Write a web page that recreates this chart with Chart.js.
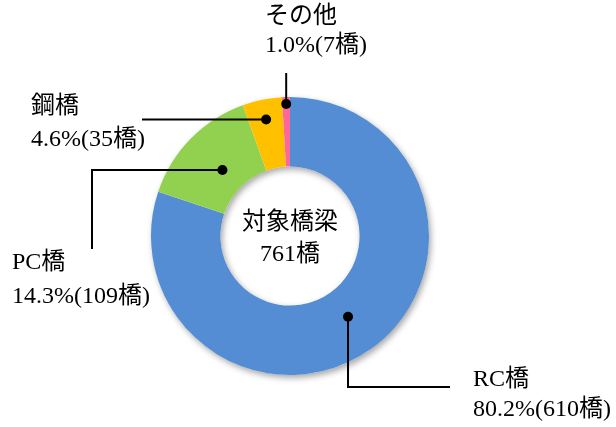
<!DOCTYPE html>
<html lang="ja">
<head>
<meta charset="utf-8">
<script src="https://cdn.jsdelivr.net/npm/chart.js@4"></script>
<style>
  html, body { margin: 0; padding: 0; background: #fff; }
  #wrap { width: 616px; height: 427px; }
</style>
</head>
<body>
<div id="wrap"><canvas id="chart" width="616" height="427"></canvas></div>
<script>
'use strict';

// data
const categories = ['RC橋', 'PC橋', '鋼橋', 'その他'];
const bridgeCounts = [610, 109, 35, 7];
const percentLabels = ['80.2%', '14.3%', '4.6%', '1.0%'];
const sliceColors = ['#548DD4', '#92D050', '#FFC000', '#FF6699'];
const centerTitle = '対象橋梁';
const unit = '橋';

const total = bridgeCounts.reduce((a, b) => a + b, 0);
const FONT = '24px "Liberation Serif", "Noto Sans CJK JP", serif';

// where each label sits and how its leader line runs (layout only)
// dotAt: 0 = inner edge, 1 = outer edge of the ring
const labelLayout = [
  { dotAt: 0.43, path: [['v', 387], ['h', 450]], x: 473, y1: 380, y2: 410 },
  { dotAt: 0.36, path: [['h', 92], ['v', 249]], x: 12, y1: 263, y2: 297 },
  { dotAt: 0.71, path: [['h', 142]], x: 31, y1: 107, y2: 140 },
  { dotAt: 0.90, path: [['v', 73]], x: 265, y1: 17, y2: 46 }
];

// soft shadow under the ring
const ringShadow = {
  id: 'ringShadow',
  beforeDatasetsDraw(chart) {
    const arc = chart.getDatasetMeta(0).data[0];
    if (!arc) return;
    const p = arc.getProps(['x', 'y', 'innerRadius', 'outerRadius'], true);
    const ctx = chart.ctx;
    ctx.save();
    ctx.shadowColor = 'rgba(0,0,0,0.35)';
    ctx.shadowBlur = 6;
    ctx.shadowOffsetX = 2;
    ctx.shadowOffsetY = 3;
    ctx.fillStyle = '#fff';
    ctx.beginPath();
    ctx.arc(p.x, p.y, p.outerRadius, 0, Math.PI * 2);
    ctx.arc(p.x, p.y, p.innerRadius, 0, Math.PI * 2, true);
    ctx.fill();
    ctx.restore();
  }
};

// leader lines, dots, labels and the centre text
const leaderLabels = {
  id: 'leaderLabels',
  afterDatasetsDraw(chart) {
    const ctx = chart.ctx;
    const meta = chart.getDatasetMeta(0);
    ctx.save();
    meta.data.forEach((arc, i) => {
      const p = arc.getProps(['x', 'y', 'startAngle', 'endAngle', 'innerRadius', 'outerRadius'], true);
      const lay = labelLayout[i];
      const mid = (p.startAngle + p.endAngle) / 2;
      const r = p.innerRadius + lay.dotAt * (p.outerRadius - p.innerRadius);
      const dotX = p.x + r * Math.cos(mid);
      const dotY = p.y + r * Math.sin(mid);
      let x = dotX;
      let y = dotY;

      ctx.strokeStyle = '#000';
      ctx.lineWidth = 2;
      ctx.beginPath();
      ctx.moveTo(x, y);
      lay.path.forEach(([dir, v]) => {
        if (dir === 'v') y = v; else x = v;
        ctx.lineTo(x, y);
      });
      ctx.stroke();

      ctx.fillStyle = '#000';
      ctx.beginPath();
      ctx.arc(dotX, dotY, 5, 0, Math.PI * 2);
      ctx.fill();

      ctx.font = FONT;
      ctx.textAlign = 'left';
      ctx.textBaseline = 'middle';
      ctx.fillText(categories[i], lay.x, lay.y1);
      ctx.fillText(percentLabels[i] + '(' + bridgeCounts[i] + unit + ')', lay.x, lay.y2);
    });

    const c = meta.data[0].getProps(['x', 'y'], true);
    ctx.font = FONT;
    ctx.textAlign = 'center';
    ctx.textBaseline = 'middle';
    ctx.fillStyle = '#000';
    ctx.fillText(centerTitle, c.x, c.y - 13);
    ctx.fillText(total + unit, c.x, c.y + 19);
    ctx.restore();
  }
};

new Chart(document.getElementById('chart'), {
  type: 'doughnut',
  data: {
    labels: categories,
    datasets: [{
      data: bridgeCounts,
      backgroundColor: sliceColors,
      borderWidth: 0
    }]
  },
  options: {
    responsive: false,
    animation: false,
    cutout: '50%',
    layout: { padding: { left: 151, right: 187, top: 97, bottom: 52 } },
    plugins: {
      legend: { display: false },
      tooltip: { enabled: false }
    }
  },
  plugins: [ringShadow, leaderLabels]
});
</script>
</body>
</html>
